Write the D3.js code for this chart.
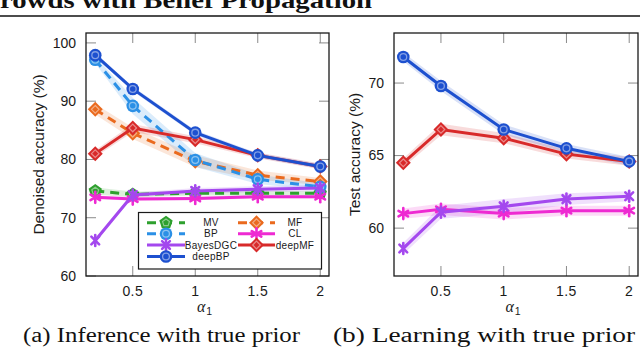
<!DOCTYPE html>
<html><head><meta charset="utf-8">
<script src="https://cdn.jsdelivr.net/npm/d3@7"></script>
<style>body{margin:0;background:#fff}svg{display:block}</style>
</head><body>
<svg id="c" width="640" height="348"></svg>
<script>
// ---- data ----
const alphas = [0.2, 0.5, 1, 1.5, 2];
const xTicks = [0.5, 1, 1.5, 2];
const xTickLabels = ["0.5", "1", "1.5", "2"];
const leftYTicks = [60, 70, 80, 90, 100];
const rightYTicks = [60, 65, 70];

// (a) inference with true prior
const infMV       = [74.6, 74.0, 74.2, 74.2, 74.2];
const infMF       = [88.6, 84.5, 79.7, 77.3, 76.2];
const infBP       = [97.1, 89.2, 79.9, 76.6, 75.3];
const infCL       = [73.5, 73.2, 73.3, 73.6, 73.6];
const infBayesDGC = [66.1, 73.9, 74.6, 74.9, 75.1];
const infDeepMF   = [81.0, 85.4, 83.4, 80.7, 78.8];
const infDeepBP   = [97.9, 92.1, 84.6, 80.7, 78.8];
// band half-widths (std)
const infMVStd       = [0.6, 0.5, 0.4, 0.4, 0.4];
const infMFStd       = [0.9, 1.0, 1.0, 0.8, 0.6];
const infBPStd       = [0.6, 1.4, 1.2, 0.8, 0.6];
const infCLStd       = [0.3, 0.3, 0.3, 0.3, 0.3];
const infBayesDGCStd = [0.4, 0.4, 0.5, 0.5, 0.5];
const infDeepMFStd   = [0.6, 0.7, 0.6, 0.5, 0.5];
const infDeepBPStd   = [0.4, 0.4, 0.4, 0.4, 0.4];

// (b) learning with true prior
const lrnCL       = [61.0, 61.3, 61.0, 61.2, 61.2];
const lrnBayesDGC = [58.6, 61.1, 61.5, 62.0, 62.2];
const lrnDeepMF   = [64.5, 66.8, 66.2, 65.1, 64.6];
const lrnDeepBP   = [71.8, 69.8, 66.8, 65.5, 64.6];
const lrnCLStd       = [0.35, 0.4, 0.4, 0.35, 0.35];
const lrnBayesDGCStd = [0.4, 0.45, 0.5, 0.4, 0.35];
const lrnDeepMFStd   = [0.3, 0.4, 0.35, 0.3, 0.3];
const lrnDeepBPStd   = [0.3, 0.35, 0.35, 0.3, 0.3];

const names = ["MV", "MF", "BP", "CL", "BayesDGC", "deepMF", "deepBP"];

// ---- styles ----
const style = {
  MV:       {color: "#2ea02e", dash: "9,6", marker: "pentagon"},
  MF:       {color: "#ea6a1e", dash: "9,6", marker: "diamond"},
  BP:       {color: "#2b90e6", dash: "9,6", marker: "circle"},
  CL:       {color: "#ee2ad2", dash: null,  marker: "asterisk"},
  BayesDGC: {color: "#a448ee", dash: null,  marker: "xstar"},
  deepMF:   {color: "#d82a2a", dash: null,  marker: "diamond"},
  deepBP:   {color: "#1d50cf", dash: null,  marker: "circle"}
};

const svg = d3.select("#c");

function lighten(c, t) { return d3.interpolateRgb(c, "#ffffff")(t); }

function drawMarker(g, type, x, y, color) {
  const light = lighten(color, 0.45);
  if (type === "circle") {
    g.append("circle").attr("cx", x).attr("cy", y).attr("r", 6.3).attr("fill", color);
    g.append("circle").attr("cx", x).attr("cy", y).attr("r", 3.4).attr("fill", "none")
      .attr("stroke", light).attr("stroke-width", 1.3);
  } else if (type === "diamond") {
    const d = (s) => `M${x},${y-s}L${x+s},${y}L${x},${y+s}L${x-s},${y}Z`;
    g.append("path").attr("d", d(7.5)).attr("fill", color);
    g.append("path").attr("d", d(3.8)).attr("fill", "none").attr("stroke", light).attr("stroke-width", 1.2);
  } else if (type === "pentagon") {
    const pts = (r) => d3.range(5).map(i => {
      const a = -Math.PI / 2 + i * 2 * Math.PI / 5;
      return [x + r * Math.cos(a), y + r * Math.sin(a)];
    });
    g.append("polygon").attr("points", pts(7).map(p => p.join(",")).join(" ")).attr("fill", color);
    g.append("polygon").attr("points", pts(3.6).map(p => p.join(",")).join(" ")).attr("fill", "none")
      .attr("stroke", light).attr("stroke-width", 1.2);
  } else {
    const angs = type === "asterisk" ? [90, 30, 150] : [45, 135, 90];
    const r = 5.5;
    angs.forEach(a => {
      const rad = a * Math.PI / 180;
      g.append("line")
        .attr("x1", x - r * Math.cos(rad)).attr("y1", y - r * Math.sin(rad))
        .attr("x2", x + r * Math.cos(rad)).attr("y2", y + r * Math.sin(rad))
        .attr("stroke", color).attr("stroke-width", 2.6).attr("stroke-linecap", "round");
    });
  }
}

function panel(opts) {
  const {left, right, top, bottom, yDomain, yTicks, series, ylabel, ylabelX} = opts;
  const x = d3.scaleLinear().domain([0.126, 2.07]).range([left, right]);
  const y = d3.scaleLinear().domain(yDomain).range([bottom, top]);
  const g = svg.append("g");
  const clipId = "clip" + left;
  svg.append("clipPath").attr("id", clipId).append("rect")
    .attr("x", left).attr("y", top).attr("width", right - left).attr("height", bottom - top);

  // ticks (inside, all four sides)
  const tk = 10;
  const tg = g.append("g").attr("stroke", "#8a8a8a").attr("stroke-width", 1);
  xTicks.forEach(v => {
    tg.append("line").attr("x1", x(v)).attr("x2", x(v)).attr("y1", bottom).attr("y2", bottom - tk);
    tg.append("line").attr("x1", x(v)).attr("x2", x(v)).attr("y1", top).attr("y2", top + tk);
  });
  yTicks.forEach(v => {
    tg.append("line").attr("y1", y(v)).attr("y2", y(v)).attr("x1", left).attr("x2", left + tk);
    tg.append("line").attr("y1", y(v)).attr("y2", y(v)).attr("x1", right).attr("x2", right - tk);
  });

  // tick labels
  xTicks.forEach((v, i) => {
    g.append("text").attr("x", x(v)).attr("y", 296).attr("text-anchor", "middle")
      .attr("font-family", "Liberation Sans, Arial, sans-serif").attr("font-size", 14)
      .attr("letter-spacing", 0.4).attr("fill", "#1a1a1a").text(xTickLabels[i]);
  });
  yTicks.forEach(v => {
    g.append("text").attr("x", left - 10).attr("y", y(v)).attr("dy", "0.35em").attr("text-anchor", "end")
      .attr("font-family", "Liberation Sans, Arial, sans-serif").attr("font-size", 14)
      .attr("fill", "#1a1a1a").text(v);
  });

  // axis labels
  g.append("text").attr("transform", `translate(${ylabelX},${(top + bottom) / 2}) rotate(-90)`)
    .attr("text-anchor", "middle").attr("dy", "0.35em")
    .attr("font-family", "Liberation Sans, Arial, sans-serif").attr("font-size", 15.5)
    .attr("fill", "#1a1a1a").text(ylabel);
  const xl = g.append("text").attr("x", (left + right) / 2 - 3).attr("y", 311.5).attr("text-anchor", "middle")
    .attr("fill", "#1a1a1a");
  xl.append("tspan").attr("font-family", "Liberation Serif, serif").attr("font-style", "italic")
    .attr("font-size", 16).text("α");
  xl.append("tspan").attr("font-family", "Liberation Sans, sans-serif").attr("font-size", 10.5)
    .attr("dy", 3.5).attr("dx", 1).text("1");

  const data = g.append("g").attr("clip-path", `url(#${clipId})`);
  // bands
  series.forEach(s => {
    const st = style[s.name];
    const area = d3.area().x((d, i) => x(alphas[i]))
      .y0((d, i) => y(d - s.std[i])).y1((d, i) => y(d + s.std[i]));
    data.append("path").attr("d", area(s.values)).attr("fill", st.color).attr("fill-opacity", 0.17);
  });
  // lines and markers
  series.forEach(s => {
    const st = style[s.name];
    const line = d3.line().x((d, i) => x(alphas[i])).y(d => y(d));
    data.append("path").attr("d", line(s.values)).attr("fill", "none")
      .attr("stroke", st.color).attr("stroke-width", 3)
      .attr("stroke-dasharray", st.dash);
    s.values.forEach((v, i) => drawMarker(data, st.marker, x(alphas[i]), y(v), st.color));
  });

  // border
  g.append("rect").attr("x", left).attr("y", top).attr("width", right - left).attr("height", bottom - top)
    .attr("fill", "none").attr("stroke", "#1a1a1a").attr("stroke-width", 1.3);
  return {x, y, g};
}

const leftPanel = panel({
  left: 86, right: 329, top: 33, bottom: 276,
  yDomain: [60, 101.7], yTicks: leftYTicks, ylabel: "Denoised accuracy (%)", ylabelX: 39,
  series: [
    {name: "MV", values: infMV, std: infMVStd},
    {name: "MF", values: infMF, std: infMFStd},
    {name: "BP", values: infBP, std: infBPStd},
    {name: "CL", values: infCL, std: infCLStd},
    {name: "BayesDGC", values: infBayesDGC, std: infBayesDGCStd},
    {name: "deepMF", values: infDeepMF, std: infDeepMFStd},
    {name: "deepBP", values: infDeepBP, std: infDeepBPStd}
  ]
});

panel({
  left: 394, right: 638, top: 33, bottom: 276,
  yDomain: [56.7, 73.45], yTicks: rightYTicks, ylabel: "Test accuracy (%)", ylabelX: 355,
  series: [
    {name: "CL", values: lrnCL, std: lrnCLStd},
    {name: "BayesDGC", values: lrnBayesDGC, std: lrnBayesDGCStd},
    {name: "deepMF", values: lrnDeepMF, std: lrnDeepMFStd},
    {name: "deepBP", values: lrnDeepBP, std: lrnDeepBPStd}
  ]
});

// legend (left panel)
const leg = svg.append("g");
leg.append("rect").attr("x", 138.5).attr("y", 212.5).attr("width", 183).attr("height", 56.5)
  .attr("fill", "#fff").attr("stroke", "#1a1a1a").attr("stroke-width", 1.2);
const legRows = [222.7, 233.8, 245, 256.5];
const legCols = [{x1: 147, x2: 185, tx: 211}, {x1: 238, x2: 275, tx: 295}];
const legendOrder = [["MV", "BP", "BayesDGC", "deepBP"], ["MF", "CL", "deepMF"]];
legendOrder.forEach((col, ci) => {
  col.forEach((name, ri) => {
    const st = style[name], c = legCols[ci], yy = legRows[ri];
    leg.append("line").attr("x1", c.x1).attr("x2", c.x2).attr("y1", yy).attr("y2", yy)
      .attr("stroke", st.color).attr("stroke-width", 3).attr("stroke-dasharray", st.dash ? "9,7" : null);
    drawMarker(leg, st.marker, (c.x1 + c.x2) / 2, yy, st.color);
    leg.append("text").attr("x", c.tx).attr("y", yy).attr("dy", "0.35em").attr("text-anchor", "middle")
      .attr("font-family", "Liberation Sans, Arial, sans-serif").attr("font-size", 10)
      .attr("letter-spacing", 0.3).attr("fill", "#1a1a1a").text(name);
  });
});

// page title fragment and rule
svg.append("text").attr("x", 0).attr("y", 8).attr("font-family", "Liberation Serif, serif")
  .attr("font-weight", "bold").attr("font-size", 24).attr("textLength", 372)
  .attr("lengthAdjust", "spacingAndGlyphs").attr("fill", "#111").text("rowds with Belief Propagation");
svg.append("line").attr("x1", 0).attr("x2", 640).attr("y1", 16).attr("y2", 16)
  .attr("stroke", "#111").attr("stroke-width", 1.5);

// captions
svg.append("text").attr("x", 23).attr("y", 342).attr("font-family", "Liberation Serif, serif")
  .attr("font-size", 20).attr("textLength", 277).attr("lengthAdjust", "spacingAndGlyphs")
  .attr("fill", "#111").text("(a) Inference with true prior");
svg.append("text").attr("x", 333).attr("y", 342).attr("font-family", "Liberation Serif, serif")
  .attr("font-size", 20).attr("textLength", 302).attr("lengthAdjust", "spacingAndGlyphs")
  .attr("fill", "#111").text("(b) Learning with true prior");
</script>
</body></html>
